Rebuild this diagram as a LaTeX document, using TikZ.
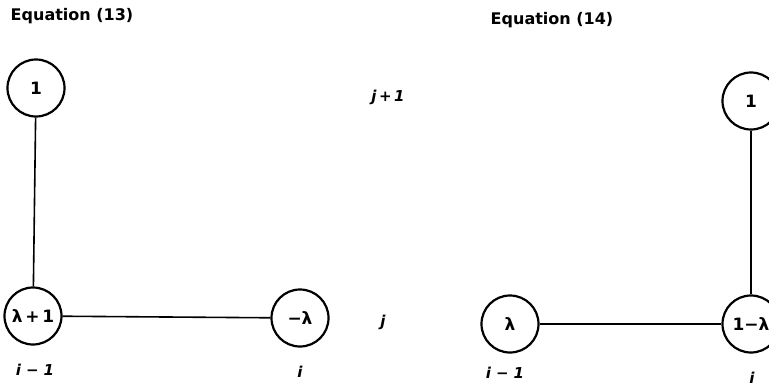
\documentclass[tikz,border=0pt]{standalone}
\usepackage{fontspec}
\setmainfont{DejaVu Sans}
\usetikzlibrary{positioning}

\begin{document}
\begin{tikzpicture}[x=1pt, y=-1pt, every node/.style={font=\fontsize{17}{19}\selectfont\bfseries, align=center},
    vertex/.style={draw, circle, line width=2.2pt, minimum size=57pt, inner sep=0pt},
    link/.style={line width=1.6pt},
    idx/.style={font=\fontsize{15}{17}\selectfont\bfseries\itshape},
    title/.style={font=\fontsize{16}{18}\selectfont\bfseries}]
  \clip (0,0) rectangle (769,386);
  % Equation (13)
  \node[title] (eq13) at (72,16) {Equation (13)};
  \node[vertex] (top13) at (36,88) {1};
  \node[vertex] (left13) at (33,316) {λ\,+\,1};
  \node[vertex] (right13) at (300,318) {−λ};
  \draw[link] (top13) -- (left13);
  \draw[link] (left13) -- (right13);
  \node[idx] (im13) at (35,370) {i\,\,−\,\,1};
  \node[idx] (i13) at (300,372) {i};
  % row labels
  \node[idx] (jp) at (388,97) {j\,+\,1};
  \node[idx] (j) at (383,322) {j};
  % Equation (14)
  \node[title] (eq14) at (552,20) {Equation (14)};
  \node[vertex] (top14) at (751,101) {1};
  \node[vertex] (left14) at (510,324) {λ};
  \node[vertex] (right14) at (751,324) {1−λ};
  \draw[link] (left14) -- (right14);
  \draw[link] (top14) -- (right14);
  \node[idx] (im14) at (505,373) {i\,\,−\,\,1};
  \node[idx] (i14) at (752,378) {i};
\end{tikzpicture}
\end{document}
